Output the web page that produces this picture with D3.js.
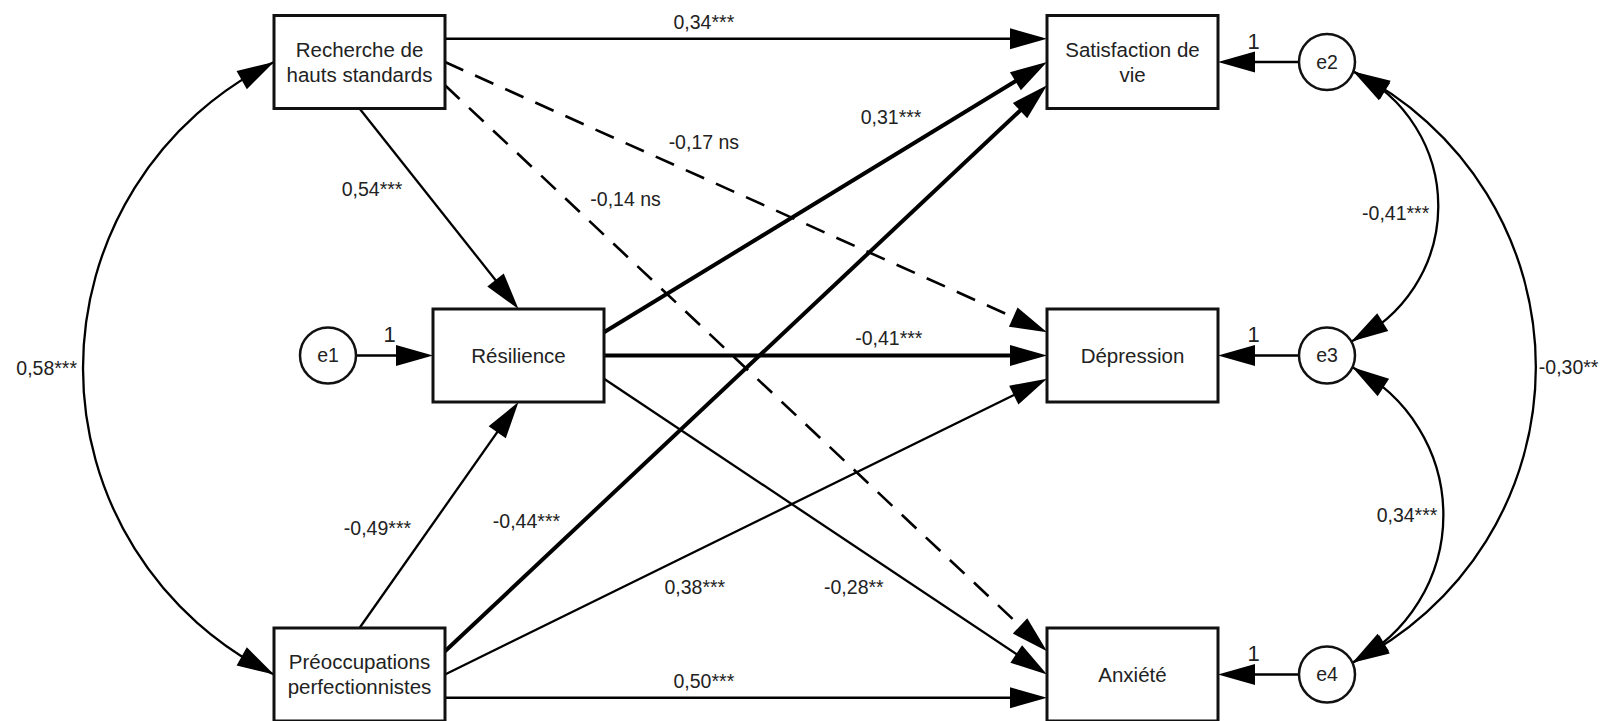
<!DOCTYPE html>
<html>
<head>
<meta charset="utf-8">
<script src="https://cdn.jsdelivr.net/npm/d3@7"></script>
<style>
  body { margin: 0; background: #fff; }
  svg { display: block; }
  text { font-family: "Liberation Sans", Arial, sans-serif; fill: #222; }
</style>
</head>
<body>
<div id="diagram"></div>
<script>
// observed variables and the lines of text shown in their boxes
const variables = ["RHS", "PP", "RES", "SAT", "DEP", "ANX"];
const variableLabels = [["Recherche de", "hauts standards"], ["Préoccupations", "perfectionnistes"], ["Résilience"],
                        ["Satisfaction de", "vie"], ["Dépression"], ["Anxiété"]];

// residual terms, the variable each one points to and its fixed weight
const residuals = ["e1", "e2", "e3", "e4"];
const residualTargets = ["RES", "SAT", "DEP", "ANX"];
const residualWeights = [1, 1, 1, 1];

// standardized regression paths
const pathFrom = ["RHS", "RHS", "RHS", "RHS", "PP", "PP", "PP", "PP", "RES", "RES", "RES"];
const pathTo   = ["SAT", "DEP", "ANX", "RES", "SAT", "DEP", "ANX", "RES", "SAT", "DEP", "ANX"];
const pathCoef = [0.34, -0.17, -0.14, 0.54, -0.44, 0.38, 0.50, -0.49, 0.31, -0.41, -0.28];
const pathSig  = ["***", " ns", " ns", "***", "***", "***", "***", "***", "***", "***", "**"];

// correlations (exogenous variables, residuals)
const covFrom = ["RHS", "e2", "e3", "e2"];
const covTo   = ["PP", "e3", "e4", "e4"];
const covCoef = [0.58, -0.41, 0.34, -0.30];
const covSig  = ["***", "***", "***", "**"];

// ---- layout ----
const width = 1616, height = 721;
const boxW = 171, boxH = 93, errR = 28;
const arrowLen = 37, arrowHalf = 10.5;

const col = d3.scaleOrdinal().domain(["left", "e1", "mid", "right", "err"]).range([359.5, 328, 518.5, 1132.5, 1327]);
const row = d3.scaleOrdinal().domain(["top", "mid", "bottom"]).range([62, 355.5, 674.5]);

const place = {
    RHS: ["left", "top"], PP: ["left", "bottom"], RES: ["mid", "mid"],
    SAT: ["right", "top"], DEP: ["right", "mid"], ANX: ["right", "bottom"],
    e1: ["e1", "mid"], e2: ["err", "top"], e3: ["err", "mid"], e4: ["err", "bottom"]
};

// [source side, fraction, target side, fraction] in the order of pathFrom
const pathPorts = [
    ["right", 0.25, "left", 0.25], ["right", 0.5, "left", 0.25], ["right", 0.75, "left", 0.25], ["bottom", 0.5, "top", 0.5],
    ["right", 0.25, "left", 0.75], ["right", 0.5, "left", 0.75], ["right", 0.75, "left", 0.75], ["top", 0.5, "bottom", 0.5],
    ["right", 0.25, "left", 0.5], ["right", 0.5, "left", 0.5], ["right", 0.75, "left", 0.5]
];
const pathStyle = ["thin", "dash", "dash", "thin", "thick", "thin", "thin", "thin", "thick", "thick", "thin"];
// [fraction along the path, dx, dy]
const pathLabelPos = [[0.43, 0, -17], [0.43, 0, -36], [0.3, 0, -56], [0.4, -51, 0], [0.23, -57, 0], [0.415, 0, 35],
                      [0.43, 0, -17], [0.44, -52, 0], [0.648, 0, -40], [0.643, 0, -17], [0.564, 0, 42]];
const strokeW = {thin: 2.3, dash: 2.6, thick: 4};

// covariance arcs: end anchors (box side or angle on a residual circle), bulge, label placement
const covLayout = [
    {a: "left", b: "left", bulge: 191, side: "left", anchor: "end", dx: -6, dy: 0},
    {a: 20, b: -30, bulge: 86, side: "right", anchor: "end", dx: -9, dy: 6},
    {a: 25, b: -25, bulge: 91, side: "right", anchor: "end", dx: -6, dy: 0},
    {a: 20, b: -25, bulge: 183, side: "right", anchor: "start", dx: 3, dy: 0}
];

const fr = d3.formatLocale({decimal: ",", thousands: "\u00a0", grouping: [3], currency: ["", " €"], minus: "-"});
const fmt = fr.format(".2f");

function center(id) {
    return [col(place[id][0]), row(place[id][1])];
}

function port(id, side, f) {
    const [cx, cy] = center(id);
    if (side === "left") return [cx - boxW / 2, cy - boxH / 2 + f * boxH];
    if (side === "right") return [cx + boxW / 2, cy - boxH / 2 + f * boxH];
    if (side === "top") return [cx - boxW / 2 + f * boxW, cy - boxH / 2];
    return [cx - boxW / 2 + f * boxW, cy + boxH / 2];
}

function circlePoint(id, deg) {
    const [cx, cy] = center(id);
    const a = deg * Math.PI / 180;
    return [cx + errR * Math.cos(a), cy + errR * Math.sin(a)];
}

function headPoints(tip, from) {
    const dx = tip[0] - from[0], dy = tip[1] - from[1], L = Math.hypot(dx, dy);
    const ux = dx / L, uy = dy / L;
    const bx = tip[0] - ux * arrowLen, by = tip[1] - uy * arrowLen;
    return [tip, [bx - uy * arrowHalf, by + ux * arrowHalf], [bx + uy * arrowHalf, by - ux * arrowHalf]];
}

const svg = d3.select("#diagram")
              .append("svg")
              .attr("width", width)
              .attr("height", height);

const gLinks = svg.append("g");
const gHeads = svg.append("g");
const gNodes = svg.append("g");
const gLabels = svg.append("g");

function drawHead(tip, from) {
    gHeads.append("polygon")
          .attr("points", headPoints(tip, from).map(p => p.join(",")).join(" "))
          .attr("fill", "#000");
}

// regression paths
pathFrom.forEach(function (src, i) {
    const pp = pathPorts[i];
    const p0 = port(src, pp[0], pp[1]);
    const p1 = port(pathTo[i], pp[2], pp[3]);
    const L = Math.hypot(p1[0] - p0[0], p1[1] - p0[1]);
    const stop = 1 - 8 / L;
    gLinks.append("line")
          .attr("x1", p0[0]).attr("y1", p0[1])
          .attr("x2", p0[0] + (p1[0] - p0[0]) * stop)
          .attr("y2", p0[1] + (p1[1] - p0[1]) * stop)
          .attr("stroke", "#000")
          .attr("stroke-width", strokeW[pathStyle[i]])
          .attr("stroke-dasharray", pathStyle[i] === "dash" ? "20,13" : null);
    drawHead(p1, p0);

    const lp = pathLabelPos[i];
    gLabels.append("text")
           .attr("x", p0[0] + (p1[0] - p0[0]) * lp[0] + lp[1])
           .attr("y", p0[1] + (p1[1] - p0[1]) * lp[0] + lp[2])
           .attr("dy", "0.35em")
           .attr("text-anchor", "middle")
           .attr("font-size", 19.5)
           .text(fmt(pathCoef[i]) + pathSig[i]);
});

// residual arrows
residuals.forEach(function (e, i) {
    const [ex, ey] = center(e);
    const [bx, by] = center(residualTargets[i]);
    const dir = bx > ex ? 1 : -1;
    const start = [ex + dir * errR, by];
    const tip = [bx - dir * boxW / 2, by];
    gLinks.append("line")
          .attr("x1", start[0]).attr("y1", start[1])
          .attr("x2", tip[0] - dir * 8).attr("y2", tip[1])
          .attr("stroke", "#000")
          .attr("stroke-width", 2.3);
    drawHead(tip, start);
    gLabels.append("text")
           .attr("x", (start[0] + tip[0]) / 2 - 5)
           .attr("y", by - 21)
           .attr("dy", "0.35em")
           .attr("text-anchor", "middle")
           .attr("font-size", 22)
           .text(residualWeights[i]);
});

// covariance arcs
covFrom.forEach(function (a, i) {
    const lay = covLayout[i];
    const pa = typeof lay.a === "number" ? circlePoint(a, lay.a) : port(a, lay.a, 0.5);
    const pb = typeof lay.b === "number" ? circlePoint(covTo[i], lay.b) : port(covTo[i], lay.b, 0.5);
    const c = Math.hypot(pb[0] - pa[0], pb[1] - pa[1]);
    const s = lay.bulge;
    const R = (c * c / 4 + s * s) / (2 * s);
    const sweep = lay.side === "left" ? 0 : 1;
    const path = gLinks.append("path")
                       .attr("d", "M" + pa.join(",") + " A" + R + "," + R + " 0 0," + sweep + " " + pb.join(","))
                       .attr("fill", "none")
                       .attr("stroke", "#000")
                       .attr("stroke-width", 2.3);
    const node = path.node();
    const total = node.getTotalLength();
    const q0 = node.getPointAtLength(arrowLen);
    const q1 = node.getPointAtLength(total - arrowLen);
    drawHead(pa, [q0.x, q0.y]);
    drawHead(pb, [q1.x, q1.y]);
    const mid = node.getPointAtLength(total / 2);
    gLabels.append("text")
           .attr("x", mid.x + lay.dx)
           .attr("y", mid.y + lay.dy)
           .attr("dy", "0.35em")
           .attr("text-anchor", lay.anchor)
           .attr("font-size", 19.5)
           .text(fmt(covCoef[i]) + covSig[i]);
});

// boxes
variables.forEach(function (v, i) {
    const [cx, cy] = center(v);
    gNodes.append("rect")
          .attr("x", cx - boxW / 2)
          .attr("y", cy - boxH / 2)
          .attr("width", boxW)
          .attr("height", boxH)
          .attr("fill", "#fff")
          .attr("stroke", "#111")
          .attr("stroke-width", 3);
    const lines = variableLabels[i];
    const t = gNodes.append("text")
                    .attr("text-anchor", "middle")
                    .attr("font-size", 20.5);
    lines.forEach(function (ln, k) {
        t.append("tspan")
         .attr("x", cx)
         .attr("y", cy + (k - (lines.length - 1) / 2) * 25)
         .attr("dy", "0.35em")
         .text(ln);
    });
});

// residual circles
residuals.forEach(function (e) {
    const [cx, cy] = center(e);
    gNodes.append("circle")
          .attr("cx", cx)
          .attr("cy", cy)
          .attr("r", errR)
          .attr("fill", "#fff")
          .attr("stroke", "#111")
          .attr("stroke-width", 2.5);
    gNodes.append("text")
          .attr("x", cx)
          .attr("y", cy)
          .attr("dy", "0.35em")
          .attr("text-anchor", "middle")
          .attr("font-size", 19.5)
          .text(e);
});
</script>
</body>
</html>
